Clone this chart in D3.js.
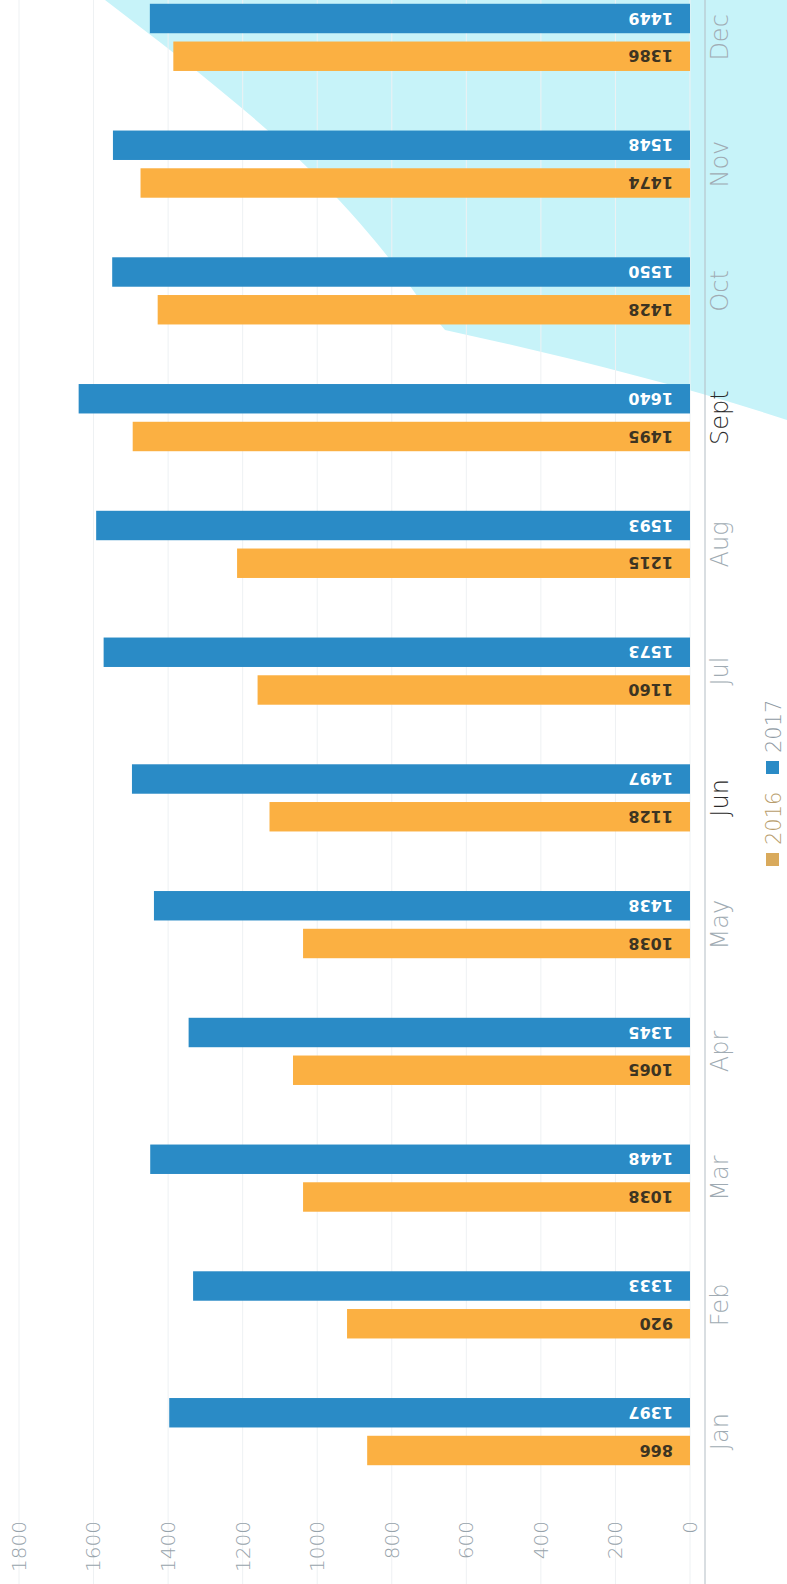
<!doctype html>
<html lang="en">
<head>
<meta charset="utf-8">
<title>2016 vs 2017 monthly</title>
<style>
  body { margin: 0; background: #fff; }
  #chart { width: 787px; height: 1584px; }
  .tick-label text { font-family: "DejaVu Sans", sans-serif; font-weight: 200; }
</style>
</head>
<body>
<div id="chart"></div>
<script src="https://d3js.org/d3.v7.min.js"></script>
<script>
  var months = ['Jan', 'Feb', 'Mar', 'Apr', 'May', 'Jun', 'Jul', 'Aug', 'Sept', 'Oct', 'Nov', 'Dec'];
  var years = ['2016', '2017'];
  var values2016 = [866, 920, 1038, 1065, 1038, 1128, 1160, 1215, 1495, 1428, 1474, 1386];
  var values2017 = [1397, 1333, 1448, 1345, 1438, 1497, 1573, 1593, 1640, 1550, 1548, 1449];
  var valueTicks = [0, 200, 400, 600, 800, 1000, 1200, 1400, 1600, 1800];

  var W = 787, H = 1584;
  var colors = { '2016': '#fbb042', '2017': '#2a8bc6' };
  var labelColors = { '2016': '#3d3422', '2017': '#ffffff' };
  var darkMonths = ['Jun', 'Sept'];

  var svg = d3.select('#chart').append('svg')
    .attr('width', W)
    .attr('height', H);

  svg.append('rect').attr('width', W).attr('height', H).attr('fill', '#fff');

  // light cyan backdrop, top right
  svg.append('path')
    .attr('d', 'M105,0 C170,50 250,110 310,170 C350,210 385,250 420,300 L445,330 C560,355 680,385 787,420 L787,0 Z')
    .attr('fill', '#c7f3f9');

  // the whole chart is drawn as a column chart, then turned a quarter left
  var g = svg.append('g')
    .attr('transform', 'translate(0,' + H + ') rotate(-90)');

  var x0 = d3.scaleBand()
    .domain(months)
    .range([89, 1610])
    .paddingInner(0.47)
    .paddingOuter(0.235);

  var x1 = d3.scaleBand()
    .domain(years)
    .range([0, x0.bandwidth()])
    .paddingInner(0.22);

  var y = d3.scaleLinear()
    .domain([0, 1800])
    .range([690, 19]);

  // grid
  g.append('g').selectAll('line')
    .data(valueTicks)
    .enter().append('line')
    .attr('x1', 0).attr('x2', H)
    .attr('y1', function(d){ return y(d); })
    .attr('y2', function(d){ return y(d); })
    .attr('stroke', '#eef1f3')
    .attr('stroke-width', 1);

  // value axis labels
  var yaxis = d3.axisLeft(y)
    .tickValues(valueTicks)
    .tickFormat(d3.format('d'))
    .tickSize(0)
    .tickPadding(0);
  var ya = g.append('g')
    .attr('class', 'tick-label')
    .attr('transform', 'translate(63,0)')
    .call(yaxis);
  ya.select('.domain').remove();
  ya.selectAll('text')
    .attr('fill', '#97a3ab')
    .style('font-size', '20px');

  // category axis line
  g.append('line')
    .attr('x1', 0).attr('x2', H)
    .attr('y1', 705).attr('y2', 705)
    .attr('stroke', '#b3bdc4')
    .attr('stroke-width', 1);

  var rows = months.map(function(m, i){
    return { month: m, vals: [
      { year: '2016', value: values2016[i] },
      { year: '2017', value: values2017[i] }
    ] };
  });

  var groups = g.append('g').selectAll('g')
    .data(rows)
    .enter().append('g')
    .attr('transform', function(d){ return 'translate(' + x0(d.month) + ',0)'; });

  groups.selectAll('rect')
    .data(function(d){ return d.vals; })
    .enter().append('rect')
    .attr('x', function(d){ return x1(d.year); })
    .attr('y', function(d){ return y(d.value); })
    .attr('width', x1.bandwidth())
    .attr('height', function(d){ return y(0) - y(d.value); })
    .attr('fill', function(d){ return colors[d.year]; });

  groups.selectAll('text.val')
    .data(function(d){ return d.vals; })
    .enter().append('text')
    .attr('class', 'val')
    .attr('transform', function(d){
      return 'translate(' + (x1(d.year) + x1.bandwidth() / 2) + ',' + (y(0) - 17) + ') rotate(-90)';
    })
    .attr('dy', '0.36em')
    .attr('text-anchor', 'start')
    .attr('fill', function(d){ return labelColors[d.year]; })
    .style('font-family', '"DejaVu Sans", sans-serif')
    .style('font-weight', 'bold')
    .style('font-size', '16px')
    .text(function(d){ return d.value; });

  // month labels
  g.append('g').selectAll('text')
    .data(months)
    .enter().append('text')
    .attr('x', function(d){ return x0(d) + x0.bandwidth() / 2; })
    .attr('y', 710)
    .attr('dy', '0.74em')
    .attr('text-anchor', 'middle')
    .attr('fill', function(d){ return darkMonths.indexOf(d) >= 0 ? '#2a2a2a' : '#a0abb3'; })
    .style('font-family', '"DejaVu Sans", sans-serif')
    .style('font-weight', 200)
    .style('font-size', '24px')
    .text(function(d){ return d; });

  // legend
  var legend = g.append('g').attr('transform', 'translate(718,773)');
  var lx = [0, 92];
  years.forEach(function(yr, i){
    legend.append('rect')
      .attr('x', lx[i]).attr('y', -7)
      .attr('width', 13).attr('height', 13)
      .attr('fill', i === 0 ? '#d9aa5c' : colors[yr]);
    legend.append('text')
      .attr('x', lx[i] + 21).attr('y', 0)
      .attr('dy', '0.36em')
      .attr('fill', i === 0 ? '#b89d6c' : '#8f9aa3')
      .style('font-family', '"DejaVu Sans", sans-serif')
      .style('font-weight', 200)
      .style('font-size', '21px')
      .text(yr);
  });
</script>
</body>
</html>
